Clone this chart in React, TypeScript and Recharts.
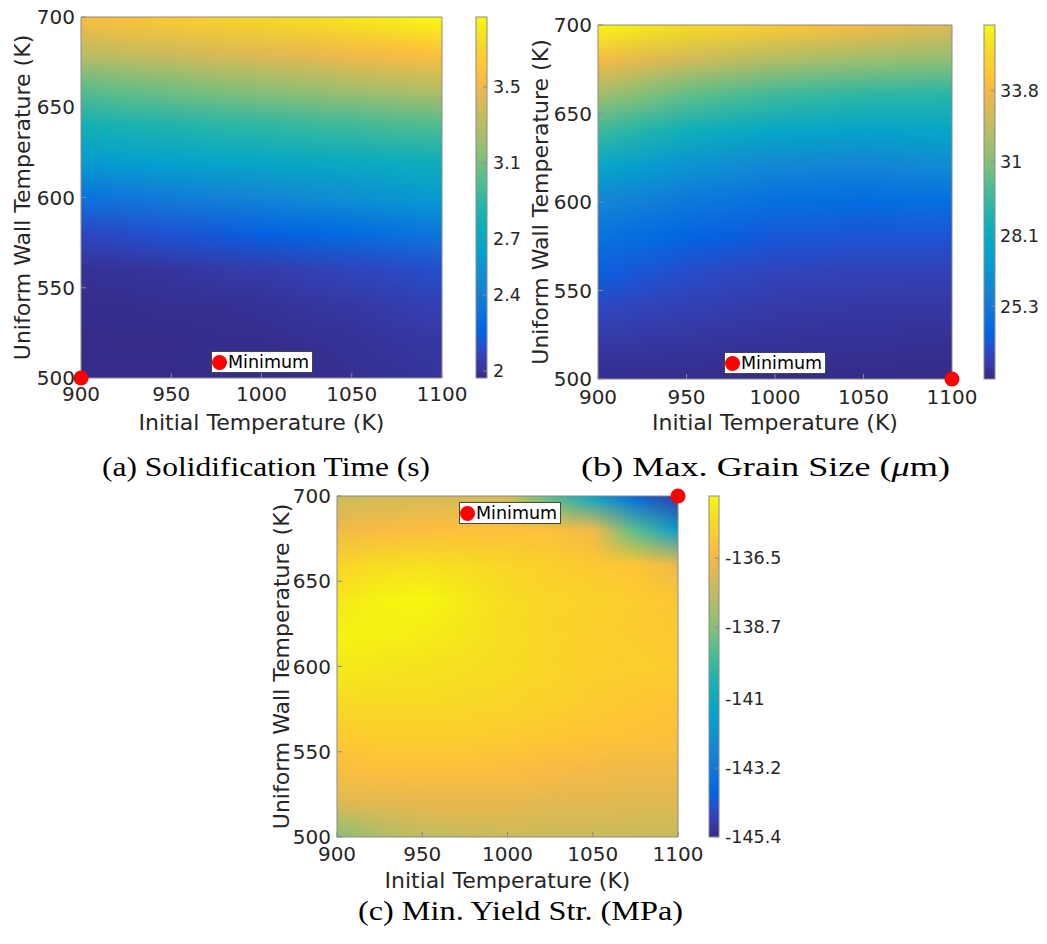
import React from 'react';
import { ScatterChart, Scatter, XAxis, YAxis, ReferenceArea, Legend } from 'recharts';

// ---------------- data ----------------
const initialTemps = [900, 925, 950, 975, 1000, 1025, 1050, 1075, 1100];
const wallTemps = [500, 520, 540, 560, 580, 600, 620, 640, 660, 680, 700];
const xTicks = [900, 950, 1000, 1050, 1100];
const yTicks = [500, 550, 600, 650, 700];

// rows follow wallTemps (bottom -> top), columns follow initialTemps
const solidificationTime = [
  [1.97, 1.97, 1.97, 1.97, 1.97, 1.98, 1.99, 2.0, 2.02],
  [1.97, 1.97, 1.97, 1.98, 1.98, 1.99, 2.0, 2.02, 2.03],
  [1.98, 1.98, 1.99, 1.99, 2.0, 2.02, 2.03, 2.05, 2.07],
  [2.0, 2.01, 2.02, 2.04, 2.05, 2.07, 2.09, 2.11, 2.13],
  [2.1, 2.12, 2.15, 2.17, 2.2, 2.23, 2.26, 2.3, 2.34],
  [2.31, 2.35, 2.38, 2.42, 2.45, 2.49, 2.52, 2.56, 2.59],
  [2.6, 2.63, 2.65, 2.68, 2.7, 2.72, 2.74, 2.76, 2.78],
  [2.8, 2.83, 2.85, 2.88, 2.9, 2.93, 2.95, 2.98, 3.0],
  [3.02, 3.06, 3.09, 3.13, 3.16, 3.19, 3.23, 3.26, 3.3],
  [3.32, 3.35, 3.38, 3.42, 3.45, 3.48, 3.52, 3.55, 3.58],
  [3.55, 3.59, 3.63, 3.67, 3.71, 3.75, 3.79, 3.83, 3.87],
];

const maxGrainSize = [
  [22.6, 22.57, 22.55, 22.52, 22.5, 22.5, 22.5, 22.48, 22.46],
  [22.95, 22.9, 22.85, 22.8, 22.75, 22.72, 22.7, 22.68, 22.65],
  [23.45, 23.3, 23.2, 23.1, 23.0, 22.97, 22.95, 22.92, 22.9],
  [24.1, 23.85, 23.6, 23.45, 23.35, 23.3, 23.25, 23.25, 23.25],
  [25.0, 24.65, 24.3, 24.1, 23.9, 23.85, 23.8, 23.8, 23.8],
  [26.0, 25.65, 25.3, 25.05, 24.8, 24.7, 24.6, 24.7, 24.8],
  [27.7, 27.2, 26.7, 26.4, 26.1, 26.0, 25.9, 26.1, 26.3],
  [29.6, 29.0, 28.4, 28.1, 27.8, 27.65, 27.5, 27.6, 27.7],
  [31.6, 30.95, 30.3, 29.95, 29.6, 29.4, 29.2, 29.15, 29.1],
  [33.9, 33.35, 32.8, 32.4, 32.0, 31.75, 31.5, 31.35, 31.2],
  [36.3, 35.85, 35.4, 35.0, 34.6, 34.25, 33.9, 33.55, 33.2],
];

const minYieldStr = [
  [-138.7, -138.0, -137.6, -137.5, -137.4, -137.4, -137.4, -137.4, -137.5],
  [-137.0, -136.9, -136.8, -136.8, -136.8, -136.9, -136.9, -137.0, -137.0],
  [-136.3, -136.2, -136.2, -136.2, -136.3, -136.4, -136.5, -136.6, -136.6],
  [-135.8, -135.7, -135.7, -135.7, -135.8, -135.9, -136.0, -136.1, -136.2],
  [-135.3, -135.3, -135.3, -135.4, -135.5, -135.6, -135.8, -135.9, -136.0],
  [-134.9, -135.0, -135.1, -135.2, -135.3, -135.5, -135.7, -135.7, -135.8],
  [-134.7, -134.7, -134.8, -135.0, -135.3, -135.5, -135.7, -135.8, -135.9],
  [-135.0, -134.7, -134.6, -134.9, -135.3, -135.5, -135.6, -135.8, -136.0],
  [-135.6, -135.3, -135.2, -135.3, -135.5, -135.7, -135.9, -136.0, -136.8],
  [-136.6, -136.4, -136.3, -136.2, -136.2, -136.2, -136.6, -139.4, -141.8],
  [-137.4, -137.3, -137.2, -137.2, -137.2, -139.4, -141.3, -143.8, -145.0],
];

const solidRange = [1.963, 3.87];
const grainRange = [22.44, 36.39];
const yieldRange = [-145.4, -134.52];
const solidBarTicks = [2, 2.4, 2.7, 3.1, 3.5];
const grainBarTicks = [25.3, 28.1, 31, 33.8];
const yieldBarTicks = [-145.4, -143.2, -141, -138.7, -136.5];

const solidMin = [{ x: 900, y: 500 }];
const grainMin = [{ x: 1100, y: 500 }];
const yieldMin = [{ x: 1100, y: 700 }];

const captions = ['(a) Solidification Time (s)', '(b) Max. Grain Size (', '(c) Min. Yield Str. (MPa)'];

// ---------------- colormap (parula, row index of 64, r, g, b) ----------------
const PARULA: number[][] = [
  [1, 0.2081, 0.1663, 0.5292], [3, 0.2123, 0.2138, 0.627], [5, 0.1959, 0.2645, 0.7279],
  [7, 0.1253, 0.3242, 0.8303], [9, 0.0117, 0.3875, 0.882], [11, 0.0165, 0.4266, 0.8786],
  [13, 0.0498, 0.4586, 0.8641], [15, 0.0723, 0.4887, 0.8467], [17, 0.0793, 0.52, 0.8312],
  [19, 0.0641, 0.557, 0.824], [21, 0.0343, 0.5966, 0.8199], [23, 0.0239, 0.6287, 0.8038],
  [25, 0.0228, 0.6535, 0.7768], [27, 0.0384, 0.6743, 0.7436], [29, 0.0843, 0.6928, 0.7062],
  [31, 0.1453, 0.7098, 0.6646], [33, 0.2178, 0.725, 0.6193], [35, 0.3022, 0.7376, 0.5712],
  [37, 0.3953, 0.7459, 0.5244], [39, 0.4871, 0.7491, 0.484], [41, 0.5709, 0.7485, 0.4494],
  [43, 0.6473, 0.7456, 0.4188], [45, 0.7184, 0.7411, 0.3905], [47, 0.7858, 0.7356, 0.3633],
  [49, 0.8507, 0.7299, 0.336], [51, 0.9139, 0.7258, 0.3063], [53, 0.9739, 0.7314, 0.2666],
  [55, 0.999, 0.7653, 0.2164], [57, 0.988, 0.8066, 0.1794], [59, 0.9697, 0.8481, 0.1475],
  [61, 0.9589, 0.8949, 0.1132], [63, 0.9661, 0.9514, 0.0755], [64, 0.9763, 0.9831, 0.0538],
];

function parula(t: number): string {
  const p = Math.max(0, Math.min(1, t)) * 63 + 1;
  let k = 0;
  while (k < PARULA.length - 2 && PARULA[k + 1][0] < p) k++;
  const a = PARULA[k];
  const b = PARULA[k + 1];
  const f = Math.max(0, Math.min(1, (p - a[0]) / (b[0] - a[0])));
  const c = [1, 2, 3].map((i) => Math.round(255 * (a[i] + (b[i] - a[i]) * f)));
  return `rgb(${c[0]},${c[1]},${c[2]})`;
}

const SANS = 'DejaVu Sans';
const TXT = '#262626';
const AX = '#8a8a8a';

// ---------------- shapes ----------------
function Strip(props: any) {
  const { x, y, width, height, gid, lower, upper, offsets } = props;
  if (width == null || height == null) return null;
  return (
    <g>
      <defs>
        <linearGradient id={`${gid}-lo`} x1="0" y1="0" x2="1" y2="0">
          {lower.map((c: string, i: number) => (
            <stop key={i} offset={offsets[i]} stopColor={c} />
          ))}
        </linearGradient>
        <linearGradient id={`${gid}-hi`} x1="0" y1="0" x2="1" y2="0">
          {upper.map((c: string, i: number) => (
            <stop key={i} offset={offsets[i]} stopColor={c} />
          ))}
        </linearGradient>
        <linearGradient id={`${gid}-fd`} gradientUnits="userSpaceOnUse" x1="0" y1="0" x2="0" y2="1">
          <stop offset="0" stopColor="#fff" stopOpacity={1} />
          <stop offset="1" stopColor="#fff" stopOpacity={0} />
        </linearGradient>
        <mask
          id={`${gid}-m`}
          maskUnits="objectBoundingBox"
          x="-0.5"
          y="-0.5"
          width="2"
          height="2"
          maskContentUnits="objectBoundingBox"
        >
          <rect x="-0.5" y="-0.5" width="2" height="2" fill={`url(#${gid}-fd)`} />
        </mask>
      </defs>
      <rect x={x} y={y} width={width} height={height} fill={`url(#${gid}-lo)`} shapeRendering="crispEdges" />
      <rect
        x={x}
        y={y}
        width={width}
        height={height}
        fill={`url(#${gid}-hi)`}
        mask={`url(#${gid}-m)`}
        shapeRendering="crispEdges"
      />
    </g>
  );
}

function BarFill(props: any) {
  const { x, y, width, height, gid } = props;
  if (width == null || height == null) return null;
  return (
    <g>
      <defs>
        <linearGradient id={gid} x1="0" y1="1" x2="0" y2="0">
          {PARULA.map((r, i) => (
            <stop key={i} offset={(r[0] - 1) / 63} stopColor={parula((r[0] - 1) / 63)} />
          ))}
        </linearGradient>
      </defs>
      <rect x={x} y={y} width={width} height={height} fill={`url(#${gid})`} stroke={AX} strokeWidth={1} />
    </g>
  );
}

const legendContent = () => (
  <div
    style={{
      display: 'flex',
      alignItems: 'center',
      background: '#fff',
      border: '1px solid #444',
      height: 22,
      boxSizing: 'border-box',
      padding: '0 3px 0 0',
      fontFamily: SANS,
      fontSize: 17.5,
      color: '#000',
      whiteSpace: 'nowrap',
      lineHeight: '20px',
    }}
  >
    <span
      style={{
        display: 'inline-block',
        width: 15,
        height: 15,
        borderRadius: '50%',
        background: '#ff0000',
        marginRight: 1,
      }}
    />
    Minimum
  </div>
);

type Box = { left: number; top: number; width: number; height: number };
type Rect = { l: number; t: number; r: number; b: number };

function ContourPanel(props: {
  id: string;
  box: Box;
  plot: Rect;
  grid: number[][];
  range: number[];
  minPoint: { x: number; y: number }[];
  legendPos: { left: number; top: number };
  yLabelX: number;
  xLabelY: number;
  xTickTop: number;
}) {
  const { id, box, plot, grid, range, minPoint, legendPos, yLabelX, xLabelY, xTickTop } = props;
  const EDGE = 5;
  const xDom = [initialTemps[0], initialTemps[initialTemps.length - 1]];
  const yDom = [wallTemps[0], wallTemps[wallTemps.length - 1]];
  const offsets = initialTemps.map((v) => (v - xDom[0]) / (xDom[1] - xDom[0]));
  const colors = grid.map((row) => row.map((v) => parula((v - range[0]) / (range[1] - range[0]))));
  const tickStyle = { fill: TXT, fontSize: 20, fontFamily: SANS };
  const bottomH = box.top + box.height - plot.b;
  const leftW = plot.l - box.left;
  return (
    <div style={{ position: 'absolute', left: box.left, top: box.top }}>
      <ScatterChart
        width={box.width}
        height={box.height}
        margin={{ top: plot.t - box.top - EDGE, right: box.left + box.width - plot.r - EDGE, bottom: 0, left: 0 }}
      >
        <XAxis
          xAxisId="b"
          type="number"
          dataKey="x"
          domain={xDom}
          ticks={xTicks}
          height={bottomH}
          stroke={AX}
          tickSize={-5}
          tickMargin={5 + (xTickTop - plot.b)}
          tick={tickStyle}
          label={{
            content: (p: any) => {
              const vb = p.viewBox || {};
              const cx = (vb.x ?? 0) + (vb.width ?? 0) / 2;
              return (
                <text
                  x={cx}
                  y={xLabelY - box.top}
                  textAnchor="middle"
                  dominantBaseline="central"
                  fontFamily={SANS}
                  fontSize={22}
                  fill={TXT}
                >
                  Initial Temperature (K)
                </text>
              );
            },
          }}
        />
        <XAxis
          xAxisId="t"
          orientation="top"
          type="number"
          domain={xDom}
          ticks={xTicks}
          height={EDGE}
          stroke={AX}
          tickSize={-5}
          tick={false}
        />
        <YAxis
          yAxisId="l"
          type="number"
          dataKey="y"
          domain={yDom}
          ticks={yTicks}
          width={leftW}
          stroke={AX}
          tickSize={-5}
          tickMargin={11}
          tick={tickStyle}
          label={{
            content: (p: any) => {
              const vb = p.viewBox || {};
              const cy = (vb.y ?? 0) + (vb.height ?? 0) / 2;
              const cx = yLabelX - box.left;
              return (
                <text
                  x={cx}
                  y={cy}
                  transform={`rotate(-90 ${cx} ${cy})`}
                  textAnchor="middle"
                  dominantBaseline="central"
                  fontFamily={SANS}
                  fontSize={22}
                  fill={TXT}
                >
                  Uniform Wall Temperature (K)
                </text>
              );
            },
          }}
        />
        <YAxis
          yAxisId="r"
          orientation="right"
          type="number"
          domain={yDom}
          ticks={yTicks}
          width={EDGE}
          stroke={AX}
          tickSize={-5}
          tick={false}
        />
        {wallTemps.slice(0, -1).map((yv, j) => (
          <ReferenceArea
            key={j}
            xAxisId="b"
            yAxisId="l"
            x1={xDom[0]}
            x2={xDom[1]}
            y1={yv}
            y2={wallTemps[j + 1]}
            shape={(p: any) => (
              <Strip {...p} gid={`${id}-s${j}`} lower={colors[j]} upper={colors[j + 1]} offsets={offsets} />
            )}
          />
        ))}
        <Scatter
          xAxisId="b"
          yAxisId="l"
          data={minPoint}
          fill="#ff0000"
          isAnimationActive={false}
          shape={(p: any) => <circle cx={p.cx} cy={p.cy} r={7.5} fill="#ff0000" />}
        />
        <Legend
          layout="horizontal"
          verticalAlign="middle"
          align="center"
          content={legendContent}
          wrapperStyle={{ left: legendPos.left - box.left, top: legendPos.top - box.top, width: 'auto', height: 'auto' }}
        />
      </ScatterChart>
    </div>
  );
}

function ColorBar(props: { id: string; box: Box; plot: Rect; range: number[]; ticks: number[]; gap: number }) {
  const { id, box, plot, range, ticks, gap } = props;
  return (
    <div style={{ position: 'absolute', left: box.left, top: box.top }}>
      <ScatterChart
        width={box.width}
        height={box.height}
        margin={{ top: plot.t - box.top, right: 0, bottom: box.top + box.height - plot.b, left: plot.l - box.left }}
      >
        <XAxis type="number" dataKey="x" domain={[0, 1]} hide allowDataOverflow />
        <YAxis
          type="number"
          dataKey="y"
          orientation="right"
          domain={range}
          ticks={ticks}
          allowDataOverflow
          width={box.left + box.width - plot.r}
          axisLine={false}
          stroke={AX}
          tickSize={-4}
          tickMargin={4 + gap}
          tick={{ fill: TXT, fontSize: 17.5, fontFamily: SANS }}
          tickFormatter={(v: number) => String(v)}
        />
        <ReferenceArea x1={0} x2={1} y1={range[0]} y2={range[1]} shape={(p: any) => <BarFill {...p} gid={`${id}-cb`} />} />
      </ScatterChart>
    </div>
  );
}

export default function App() {
  return (
    <div style={{ position: 'absolute', left: 0, top: 0, width: 1047, height: 944, background: '#fff', overflow: 'hidden' }}>
      <svg width={1047} height={944} style={{ position: 'absolute', left: 0, top: 0 }}>
        <g fontFamily="Liberation Serif" fontSize={28} fill="#000">
          <text x={102} y={476} textLength={328} lengthAdjust="spacingAndGlyphs">
            {captions[0]}
          </text>
          <text x={581} y={476} textLength={369} lengthAdjust="spacingAndGlyphs">
            {captions[1]}
            <tspan fontStyle="italic">μ</tspan>m)
          </text>
          <text x={358} y={920} textLength={325} lengthAdjust="spacingAndGlyphs">
            {captions[2]}
          </text>
        </g>
      </svg>
      <ContourPanel
        id="pa"
        box={{ left: 0, top: 0, width: 490, height: 440 }}
        plot={{ l: 81, t: 17, r: 442, b: 378 }}
        grid={solidificationTime}
        range={solidRange}
        minPoint={solidMin}
        legendPos={{ left: 211, top: 351 }}
        yLabelX={22}
        xLabelY={422}
        xTickTop={387}
      />
      <ColorBar
        id="ca"
        box={{ left: 466, top: 0, width: 74, height: 400 }}
        plot={{ l: 476, t: 17, r: 487, b: 378 }}
        range={solidRange}
        ticks={solidBarTicks}
        gap={6}
      />
      <ContourPanel
        id="pb"
        box={{ left: 515, top: 0, width: 485, height: 440 }}
        plot={{ l: 598, t: 25, r: 952, b: 379 }}
        grid={maxGrainSize}
        range={grainRange}
        minPoint={grainMin}
        legendPos={{ left: 724, top: 352 }}
        yLabelX={540}
        xLabelY={422}
        xTickTop={390}
      />
      <ColorBar
        id="cb"
        box={{ left: 974, top: 0, width: 73, height: 400 }}
        plot={{ l: 984, t: 25, r: 995, b: 379 }}
        range={grainRange}
        ticks={grainBarTicks}
        gap={5}
      />
      <ContourPanel
        id="pc"
        box={{ left: 255, top: 480, width: 470, height: 420 }}
        plot={{ l: 337, t: 496, r: 678, b: 837 }}
        grid={minYieldStr}
        range={yieldRange}
        minPoint={yieldMin}
        legendPos={{ left: 459, top: 502 }}
        yLabelX={281}
        xLabelY={880}
        xTickTop={847}
      />
      <ColorBar
        id="cc"
        box={{ left: 700, top: 480, width: 90, height: 380 }}
        plot={{ l: 709, t: 496, r: 719, b: 837 }}
        range={yieldRange}
        ticks={yieldBarTicks}
        gap={6}
      />
    </div>
  );
}
